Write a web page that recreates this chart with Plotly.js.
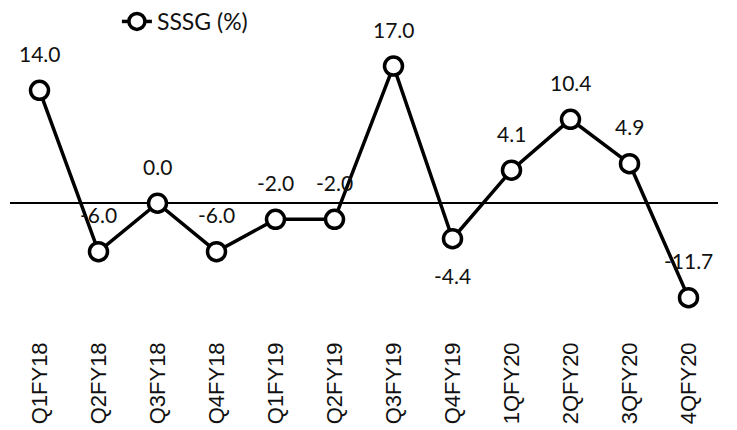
<!DOCTYPE html>
<html>
<head>
<meta charset="utf-8">
<script src="https://cdn.plot.ly/plotly-3.0.1.min.js"></script>
<style>html,body{margin:0;padding:0;background:#fff}#chart{width:737px;height:430px}</style>
</head>
<body>
<div id="chart"></div>
<script>
const quarters = ["Q1FY18","Q2FY18","Q3FY18","Q4FY18","Q1FY19","Q2FY19","Q3FY19","Q4FY19","1QFY20","2QFY20","3QFY20","4QFY20"];
const sssg = [14.0, -6.0, 0.0, -6.0, -2.0, -2.0, 17.0, -4.4, 4.1, 10.4, 4.9, -11.7];
const labelBelow = [false,false,false,false,false,false,false,true,false,false,false,false];

const trace = {
  type: "scatter",
  mode: "lines+markers",
  name: "SSSG (%)",
  x: quarters,
  y: sssg,
  line: {color: "#000", width: 3.5},
  marker: {symbol: "circle", size: 18, color: "#fff", line: {color: "#000", width: 3.5}},
  cliponaxis: false
};

const annotations = sssg.map((v, i) => ({
  x: quarters[i], y: v, xref: "x", yref: "y",
  text: v.toFixed(1), showarrow: false,
  yshift: labelBelow[i] ? -37 : 37,
  font: {family: "Lato", size: 21, color: "#111"}
}));

const layout = {
  width: 737, height: 430,
  margin: {l: 10, r: 19, t: 0, b: 93},
  paper_bgcolor: "#fff", plot_bgcolor: "#fff",
  showlegend: true,
  legend: {x: 0.151, y: 0.945, xanchor: "left", yanchor: "middle", orientation: "h",
           font: {family: "Lato", size: 23, color: "#111"}, bgcolor: "rgba(0,0,0,0)"},
  xaxis: {type: "category", range: [-0.5, 11.5], tickangle: -90, showgrid: false, showline: false,
          ticks: "", zeroline: false, automargin: false,
          tickfont: {family: "Liberation Sans", size: 22, color: "#111"}},
  yaxis: {range: [-16.58, 24.82], showgrid: false, zeroline: true, zerolinecolor: "#000",
          zerolinewidth: 1.5, showticklabels: false, ticks: "", showline: false, automargin: false},
  annotations: annotations
};

Plotly.newPlot("chart", [trace], layout, {displayModeBar: false, staticPlot: true});
</script>
</body>
</html>
